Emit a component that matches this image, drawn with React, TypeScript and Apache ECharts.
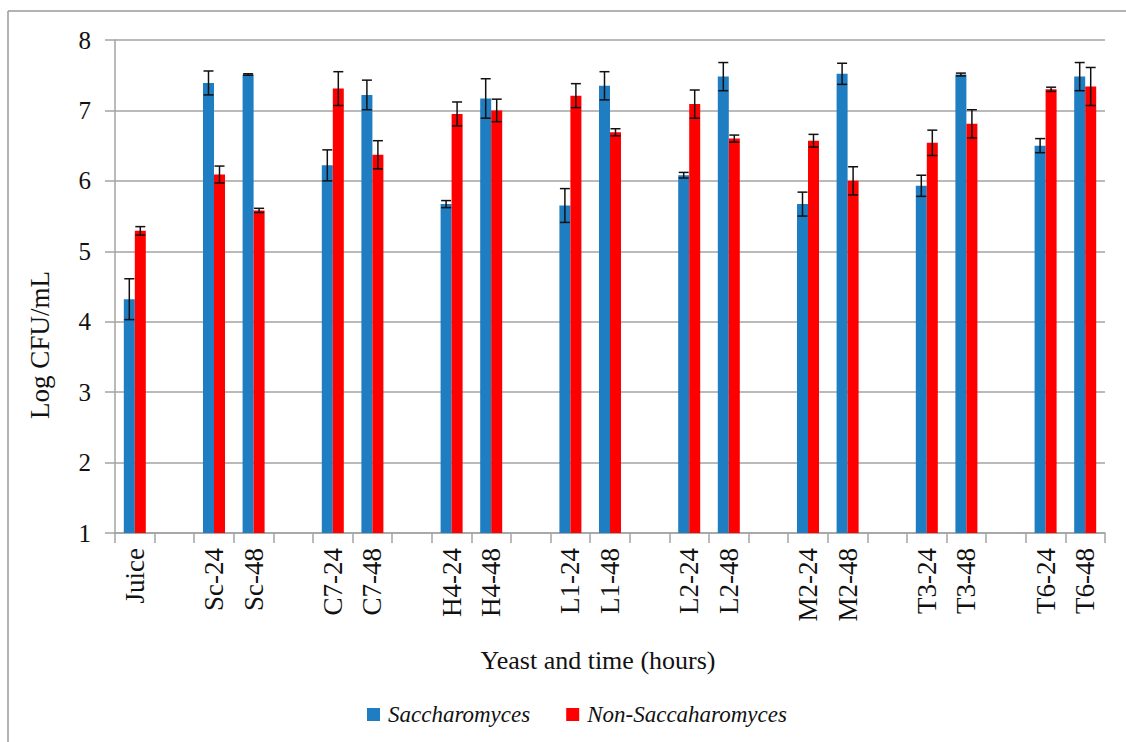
import React, { useEffect, useRef } from "react";
import * as echarts from "echarts";

// Yeast strain / sampling time labels (grouped in pairs after the juice)
const labels = [
  "Juice",
  "Sc-24", "Sc-48",
  "C7-24", "C7-48",
  "H4-24", "H4-48",
  "L1-24", "L1-48",
  "L2-24", "L2-48",
  "M2-24", "M2-48",
  "T3-24", "T3-48",
  "T6-24", "T6-48",
];

// Log CFU/mL means
const saccharomyces = [
  4.32,
  7.39, 7.51,
  6.22, 7.22,
  5.67, 7.17,
  5.65, 7.35,
  6.08, 7.48,
  5.67, 7.52,
  5.93, 7.51,
  6.50, 7.48,
];
const nonSaccharomyces = [
  5.29,
  6.09, 5.58,
  7.31, 6.37,
  6.95, 7.00,
  7.21, 6.69,
  7.09, 6.60,
  6.57, 6.00,
  6.54, 6.81,
  7.30, 7.34,
];

// Standard deviations
const saccharomycesErr = [
  0.29,
  0.17, 0.01,
  0.22, 0.21,
  0.05, 0.28,
  0.24, 0.20,
  0.04, 0.20,
  0.17, 0.15,
  0.15, 0.02,
  0.10, 0.20,
];
const nonSaccharomycesErr = [
  0.06,
  0.12, 0.03,
  0.24, 0.20,
  0.17, 0.16,
  0.17, 0.05,
  0.20, 0.05,
  0.09, 0.20,
  0.18, 0.20,
  0.03, 0.27,
];

const yTicks = { min: 1, max: 8, interval: 1 };

const FONT = "'Liberation Serif', 'Times New Roman', serif";
const BLUE = "#1f7dc1";
const RED = "#ff0000";
const GRAY = "#a3a3a3";
const BAR_W = 11;

// Insert an empty category after the juice and after every strain pair.
function buildSlots() {
  const cats: string[] = [];
  const srcIndex: (number | null)[] = [];
  labels.forEach((l, i) => {
    cats.push(l);
    srcIndex.push(i);
    const isGroupEnd = i === 0 || i % 2 === 0;
    if (isGroupEnd && i !== labels.length - 1) {
      cats.push("");
      srcIndex.push(null);
    }
  });
  return { cats, srcIndex };
}

function errorBars(values: number[], errs: number[], srcIndex: (number | null)[], offset: number) {
  const data: number[][] = [];
  srcIndex.forEach((s, slot) => {
    if (s !== null) data.push([slot, values[s], errs[s]]);
  });
  return {
    type: "custom",
    z: 5,
    silent: true,
    encode: { x: 0, y: 1 },
    data,
    renderItem: (_p: any, api: any) => {
      const slot = api.value(0);
      const v = api.value(1);
      const e = api.value(2);
      const x = api.coord([slot, v])[0] + offset;
      const top = api.coord([slot, v + e])[1];
      const bot = api.coord([slot, v - e])[1];
      const style = { stroke: "#111", lineWidth: 1.5 };
      const cap = 5;
      return {
        type: "group",
        children: [
          { type: "line", shape: { x1: x, y1: top, x2: x, y2: bot }, style },
          { type: "line", shape: { x1: x - cap, y1: top, x2: x + cap, y2: top }, style },
          { type: "line", shape: { x1: x - cap, y1: bot, x2: x + cap, y2: bot }, style },
        ],
      };
    },
  };
}

export default function App() {
  const ref = useRef<HTMLDivElement>(null);

  useEffect(() => {
    if (!ref.current) return;
    const chart = echarts.init(ref.current, null, { renderer: "svg" });
    const { cats, srcIndex } = buildSlots();
    const pick = (arr: number[]) => srcIndex.map((s) => (s === null ? null : arr[s]));

    chart.setOption({
      animation: false,
      backgroundColor: "#ffffff",
      grid: { left: 115, right: 21, top: 40, bottom: 209, outerBoundsMode: "none" },
      xAxis: {
        type: "category",
        data: cats,
        axisLine: { show: true, lineStyle: { color: GRAY, width: 1.5 } },
        axisTick: { show: true, length: 10, lineStyle: { color: GRAY, width: 1.5 } },
        axisLabel: {
          interval: 0,
          rotate: 90,
          margin: 15,
          color: "#111",
          fontFamily: FONT,
          fontSize: 27,
        },
        splitLine: { show: false },
      },
      yAxis: {
        type: "value",
        min: yTicks.min,
        max: yTicks.max,
        interval: yTicks.interval,
        axisLine: { show: true, lineStyle: { color: GRAY, width: 1.5 } },
        axisTick: { show: true, length: 10, lineStyle: { color: GRAY, width: 1.5 } },
        axisLabel: { margin: 24, color: "#111", fontFamily: FONT, fontSize: 25 },
        splitLine: { show: true, lineStyle: { color: GRAY, width: 1.5 } },
      },
      legend: {
        left: 362,
        top: 698,
        itemWidth: 13,
        itemHeight: 13,
        itemGap: 36,
        icon: "rect",
        textStyle: {
          fontFamily: FONT,
          fontStyle: "italic",
          fontSize: 23,
          color: "#111",
          padding: [0, 0, 0, 3],
        },
        data: ["Saccharomyces", "Non-Saccaharomyces"],
      },
      series: [
        {
          name: "Saccharomyces",
          type: "bar",
          data: pick(saccharomyces),
          barWidth: BAR_W,
          barGap: "0%",
          itemStyle: { color: BLUE },
        },
        {
          name: "Non-Saccaharomyces",
          type: "bar",
          data: pick(nonSaccharomyces),
          barWidth: BAR_W,
          barGap: "0%",
          itemStyle: { color: RED },
        },
        errorBars(saccharomyces, saccharomycesErr, srcIndex, -BAR_W / 2),
        errorBars(nonSaccharomyces, nonSaccharomycesErr, srcIndex, BAR_W / 2),
      ],
      graphic: [
        {
          type: "line",
          shape: { x1: 8, y1: 11, x2: 1126, y2: 11 },
          style: { stroke: "#9a9a9a", lineWidth: 1.5 },
        },
        {
          type: "line",
          shape: { x1: 8, y1: 11, x2: 8, y2: 742 },
          style: { stroke: "#9a9a9a", lineWidth: 1.5 },
        },
        {
          type: "text",
          x: 40,
          y: 345,
          rotation: Math.PI / 2,
          style: {
            text: "Log CFU/mL",
            fontFamily: FONT,
            fontSize: 27,
            fill: "#111",
            align: "center",
            verticalAlign: "middle",
          },
        },
        {
          type: "text",
          x: 598,
          y: 660,
          style: {
            text: "Yeast and time (hours)",
            fontFamily: FONT,
            fontSize: 26,
            fill: "#111",
            align: "center",
            verticalAlign: "middle",
          },
        },
      ],
    });

    return () => chart.dispose();
  }, []);

  return (
    <div
      ref={ref}
      style={{ position: "fixed", left: 0, top: 0, width: 1126, height: 742 }}
    />
  );
}
